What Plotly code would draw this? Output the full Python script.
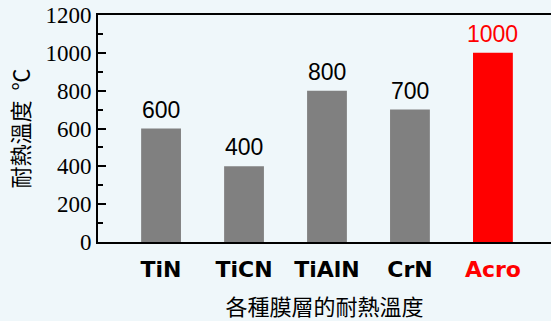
import plotly.graph_objects as go

categories = ["TiN", "TiCN", "TiAlN", "CrN", "Acro"]
values = [600, 400, 800, 700, 1000]
bar_colors = ["#808080", "#808080", "#808080", "#808080", "#ff0000"]
label_colors = ["black", "black", "black", "black", "#ff0000"]
y_ticks = [0, 200, 400, 600, 800, 1000, 1200]
x_title = "各種膜層的耐熱溫度"
y_title = "耐熱溫度  ℃"

bg = "#eff7fa"

fig = go.Figure()
fig.add_trace(go.Bar(
    x=list(range(len(categories))), y=values,
    marker=dict(color=bar_colors, line=dict(width=0)),
    width=0.48, hoverinfo="skip",
))

for i, (v, c) in enumerate(zip(values, label_colors)):
    fig.add_annotation(
        x=i, y=v, text=str(v), showarrow=False, yanchor="bottom", yshift=4,
        font=dict(family="Liberation Sans", size=23, color=c),
    )

ticktext = [f"<b><span style='color:{c}'>{t}</span></b>" for t, c in zip(categories, label_colors)]

fig.update_layout(
    width=551, height=321,
    margin=dict(l=98, r=0, t=15, b=79),
    paper_bgcolor=bg, plot_bgcolor=bg,
    showlegend=False,
    xaxis=dict(
        range=[-0.76, 4.70], tickmode="array",
        tickvals=list(range(len(categories))), ticktext=ticktext,
        tickfont=dict(family="DejaVu Sans", size=22, color="black"),
        ticklabelstandoff=7,
        showline=True, linecolor="black", linewidth=2, mirror=True,
        showgrid=False, zeroline=False, ticks="",
        title=dict(text=x_title, font=dict(family="Noto Sans CJK TC", size=22, color="black"), standoff=20),
    ),
    yaxis=dict(
        range=[0, 1200], tickmode="array", tickvals=y_ticks,
        tickfont=dict(family="Liberation Serif", size=23, color="black"),
        ticks="inside", ticklen=8, tickwidth=1.5, tickcolor="black",
        minor=dict(dtick=100, ticks="inside", ticklen=5, tickwidth=1.5, tickcolor="black"),
        showline=True, linecolor="black", linewidth=2,
        showgrid=False, zeroline=False,
        title=dict(text=y_title, font=dict(family="Noto Sans CJK TC", size=22, color="black"), standoff=10),
    ),
)

fig.write_html("out.html")
